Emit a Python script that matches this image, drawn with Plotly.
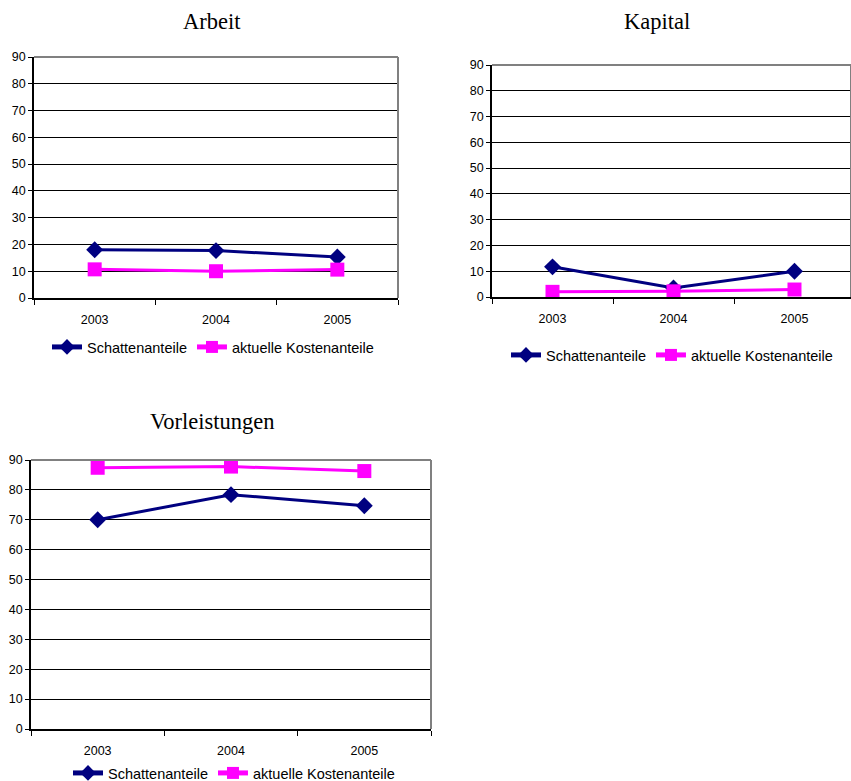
import plotly.graph_objects as go

W, H = 851, 781

years = ["2003", "2004", "2005"]
titles = ["Arbeit", "Kapital", "Vorleistungen"]
series_names = ["Schattenanteile", "aktuelle Kostenanteile"]

arbeit_schatten = [18.0, 17.7, 15.3]
arbeit_kosten = [10.7, 10.0, 10.6]
kapital_schatten = [11.7, 3.5, 10.0]
kapital_kosten = [2.0, 2.2, 2.9]
vorl_schatten = [70.0, 78.4, 74.7]
vorl_kosten = [87.4, 87.8, 86.3]

y_ticks = [0, 10, 20, 30, 40, 50, 60, 70, 80, 90]

# panel boxes in pixels: left, right, top, bottom
panels = [
    (34, 398, 57, 298),
    (492, 851, 65, 297),
    (31, 431, 460, 729),
]
title_pos = [(212, 21), (657, 22), (212, 421)]
legend_pos = [(47, 347), (506, 355), (68, 773)]

data = [
    (arbeit_schatten, arbeit_kosten),
    (kapital_schatten, kapital_kosten),
    (vorl_schatten, vorl_kosten),
]

NAVY = "#000080"
MAGENTA = "#FF00FF"

fig = go.Figure()
annotations = []
shapes = []
layout = {}

for i, ((l, r, t, b), (s_vals, k_vals)) in enumerate(zip(panels, data)):
    n = "" if i == 0 else str(i + 1)
    xa, ya = "x" + n, "y" + n
    lg = "legend" + n
    fig.add_trace(go.Scatter(
        x=years, y=s_vals, name=series_names[0], xaxis=xa, yaxis=ya,
        mode="lines+markers", legend=lg,
        line=dict(color=NAVY, width=3),
        marker=dict(symbol="diamond", size=13, color=NAVY),
    ))
    fig.add_trace(go.Scatter(
        x=years, y=k_vals, name=series_names[1], xaxis=xa, yaxis=ya,
        mode="lines+markers", legend=lg,
        line=dict(color=MAGENTA, width=3),
        marker=dict(symbol="square", size=14, color=MAGENTA),
    ))
    layout["xaxis" + n] = dict(
        domain=[l / W, r / W], anchor=ya, type="category",
        range=[-0.5, 2.5 - (0.033 if i == 1 else 0)],
        tickson="boundaries", ticks="outside", ticklen=5, tickcolor="black",
        ticklabelstandoff=9,
        showline=True, linecolor="black", linewidth=1.5, showgrid=False,
        tickfont=dict(family="Liberation Sans, Arial", size=12.5, color="black"),
        fixedrange=True,
    )
    layout["yaxis" + n] = dict(
        domain=[1 - b / H, 1 - t / H], anchor=xa, range=[0, 90],
        tickvals=y_ticks, ticks="outside", ticklen=4, tickcolor="black",
        showline=True, linecolor="black", linewidth=1.5,
        showgrid=True, gridcolor="black", gridwidth=1, zeroline=False,
        tickfont=dict(family="Liberation Sans, Arial", size=12.5, color="black"),
        fixedrange=True,
    )
    shapes.append(dict(type="line", xref=xa + " domain", yref=ya + " domain",
                       x0=0, x1=1, y0=1, y1=1, line=dict(color="#808080", width=2)))
    shapes.append(dict(type="line", xref=xa + " domain", yref=ya + " domain",
                       x0=1, x1=1, y0=0, y1=1, line=dict(color="#808080", width=2)))
    tx, ty = title_pos[i]
    annotations.append(dict(text=titles[i], x=tx / W, y=1 - ty / H, xref="paper", yref="paper",
                            xanchor="center", yanchor="middle", showarrow=False,
                            font=dict(family="Liberation Serif, Times New Roman", size=22.5, color="black")))
    lx, ly = legend_pos[i]
    layout[lg] = dict(orientation="h", x=lx / W, y=1 - ly / H, xanchor="left", yanchor="middle",
                      font=dict(family="Liberation Sans, Arial", size=14.5, color="black"),
                      bgcolor="rgba(0,0,0,0)", itemsizing="constant", tracegroupgap=0,
                      itemclick=False, itemdoubleclick=False)

fig.update_layout(
    width=W, height=H, margin=dict(l=0, r=0, t=0, b=0, autoexpand=False),
    paper_bgcolor="white", plot_bgcolor="white",
    annotations=annotations, shapes=shapes, showlegend=True,
    **layout,
)

fig.write_html("out.html", config={"displayModeBar": False},
               post_script="document.body.style.margin='0';")
